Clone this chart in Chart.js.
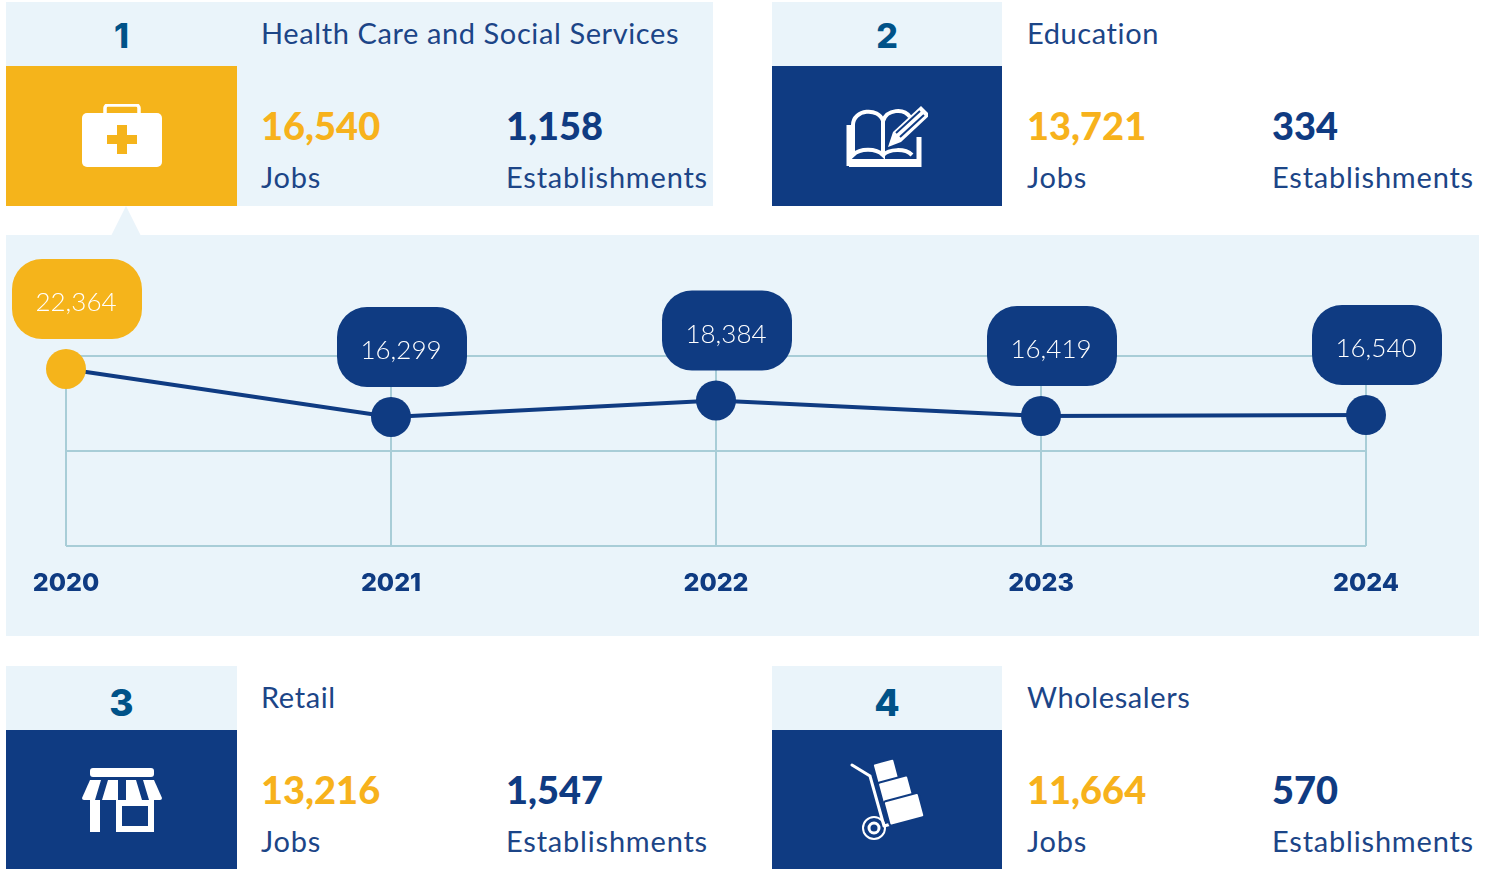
<!DOCTYPE html>
<html lang="en">
<head>
    <meta charset="UTF-8">
    <title>Top industries by jobs</title>
    <script src="https://cdn.jsdelivr.net/npm/chart.js"></script>
    <style>
        html, body {
            margin: 0;
            padding: 0;
            background: #ffffff;
            overflow: hidden;
            font-family: Lato, sans-serif;
        }

        #page { position: relative; width: 1494px; height: 869px; }

        .card { position: absolute; width: 707px; height: 204px; color: #1c4587; }
        .card.pick { background: #eaf4fa; }
        .rank {
            position: absolute; left: 0; top: 0; width: 230px; height: 64px;
            background: #eaf4fa; color: #005288;
            font: 800 34px/68px Inter, sans-serif; text-align: center;
        }
        .card.low .rank { line-height: 74px; font-size: 37px; }
        .icon {
            position: absolute; left: 0; top: 64px; width: 230px; height: 140px;
            background: #0f3b82;
            display: flex; align-items: center; justify-content: center;
        }
        .card.pick .rank, .card.pick .icon, .card.left .rank, .card.left .icon { width: 231px; }
        .card.pick .icon { background: #f5b41b; }
        .icon svg { display: block; }
        .title, .lbl { position: absolute; font-weight: 400; font-size: 29px; line-height: 34px; letter-spacing: 0.6px; white-space: nowrap; }
        .title { left: 255px; top: 14px; }
        .lbl { top: 158px; letter-spacing: 0.8px; }
        .num { position: absolute; top: 100px; font-weight: 900; font-size: 38px; line-height: 46px; white-space: nowrap; }
        .jobs { left: 255px; }
        .est { left: 500px; }
        .num.jobs { color: #f7b21c; }
        .num.est { color: #0f3b82; }

        #panel { position: absolute; left: 6px; top: 235px; width: 1473px; height: 401px; background: #eaf4fa; }
        #notch { position: absolute; left: 111px; top: 206px; }
        canvas { display: block; }
    </style>
</head>
<body>
    <div id="page">
        <div id="cards"></div>
        <svg id="notch" width="30" height="30"><polygon points="15,0 30,30 0,30" fill="#eaf4fa"/></svg>
        <div id="panel"><canvas id="jobsChart" width="1473" height="401"></canvas></div>
    </div>

    <script>
        // chart data
        const years = ["2020", "2021", "2022", "2023", "2024"];
        const jobsByYear = [22364, 16299, 18384, 16419, 16540];
        const yAxisMax = 24000;
        const yAxisStep = 12000;

        // cards
        const sectors = ["Health Care and Social Services", "Education", "Retail", "Wholesalers"];
        const sectorJobs = ["16,540", "13,721", "13,216", "11,664"];
        const sectorEstablishments = ["1,158", "334", "1,547", "570"];

        const navy = "#0f3b82";
        const yellow = "#f5b41b";
        const gridColor = "#a8cdd7";

        const icons = [
            // first aid case
            `<svg width="82" height="64" viewBox="0 0 82 64"><path d="M24 10V4a3 3 0 0 1 3-3h28a3 3 0 0 1 3 3v6" fill="none" stroke="#fff" stroke-width="3.5"/><rect x="1" y="9" width="80" height="54" rx="5" fill="#fff"/><path d="M36 21h10v10h10v9H46v10H36V40H26v-9h10z" fill="#f5b41b"/></svg>`,
            // book and pencil
            `<svg width="82" height="62" viewBox="0 0 82 62"><path d="M3 61V20M3 61h70V32" stroke="#fff" stroke-width="5" fill="none"/><path d="M7 50V20C7 4 33 2 37 16v34C30 43 14 43 7 50z" fill="none" stroke="#fff" stroke-width="4"/><path d="M37 16C41 4 58 3 64 12M37 50c6-6 22-7 29 0" fill="none" stroke="#fff" stroke-width="4"/><path d="M3 61h70V54H3z" fill="#fff"/><path d="M42 42l5-15 28-26 9 9-29 27z" fill="#fff"/><path d="M50 28l24-22M54 32l24-22" stroke="#0f3b82" stroke-width="2"/></svg>`,
            // shop front
            `<svg width="82" height="66" viewBox="0 0 82 66"><rect x="9" y="1" width="64" height="9" rx="3" fill="#fff"/><path d="M9 13h64l8 18a2 2 0 0 1-2 2H3a2 2 0 0 1-2-2z" fill="#fff"/><path d="M20 13h7l-6 20h-7zM37 13h8v20h-8zM55 13h7l6 20h-7z" fill="#0f3b82"/><rect x="9" y="33" width="10" height="32" fill="#fff"/><rect x="35" y="33" width="38" height="32" fill="#fff"/><rect x="41" y="39" width="26" height="20" fill="#0f3b82"/></svg>`,
            // hand truck
            `<svg width="74" height="82" viewBox="0 0 74 82"><path d="M2 6l18 11 14 50" fill="none" stroke="#fff" stroke-width="3" stroke-linecap="round"/><path d="M34 67l32-9" stroke="#fff" stroke-width="3"/><circle cx="24" cy="69" r="11" fill="none" stroke="#fff" stroke-width="2"/><circle cx="24" cy="69" r="5" fill="none" stroke="#fff" stroke-width="3"/><g fill="#fff" stroke="#0f3b82" stroke-width="2"><rect x="25" y="2" width="22" height="21" rx="2" transform="rotate(-15 35 13)"/><rect x="30" y="20" width="31" height="22" rx="2" transform="rotate(-15 44 31)"/><rect x="36" y="38" width="36" height="25" rx="2" transform="rotate(-15 53 50)"/></g></svg>`
        ];

        const cardOrigins = [[6, 2], [772, 2], [6, 666], [772, 666]];
        const cardClasses = ["pick", "", "low left", "low"];
        document.getElementById("cards").innerHTML = sectors.map((name, i) => `
            <div class="card ${cardClasses[i]}" style="left:${cardOrigins[i][0]}px;top:${cardOrigins[i][1]}px">
                <div class="rank">${i + 1}</div>
                <div class="icon">${icons[i]}</div>
                <div class="title">${name}</div>
                <div class="num jobs">${sectorJobs[i]}</div>
                <div class="lbl jobs">Jobs</div>
                <div class="num est">${sectorEstablishments[i]}</div>
                <div class="lbl est">Establishments</div>
            </div>`).join("");

        // rounded value labels above the points
        const bubblePlugin = {
            id: "bubbles",
            afterDatasetsDraw(chart) {
                const ctx = chart.ctx;
                const points = chart.getDatasetMeta(0).data;
                ctx.save();
                ctx.font = "300 26px Lato, sans-serif";
                ctx.textAlign = "center";
                ctx.textBaseline = "middle";
                points.forEach((pt, i) => {
                    const cx = pt.x + 11;
                    const cy = pt.y - 70;
                    ctx.fillStyle = i === 0 ? yellow : navy;
                    ctx.beginPath();
                    ctx.roundRect(cx - 65, cy - 40, 130, 80, 30);
                    ctx.fill();
                    ctx.fillStyle = "#ffffff";
                    ctx.fillText(jobsByYear[i].toLocaleString("en-US"), cx - 1, cy + 4);
                });
                ctx.restore();
            }
        };

        new Chart(document.getElementById("jobsChart"), {
            type: "line",
            data: {
                labels: years,
                datasets: [{
                    data: jobsByYear,
                    clip: false,
                    borderColor: navy,
                    borderWidth: 4,
                    tension: 0,
                    pointRadius: 20,
                    pointBorderWidth: 0,
                    pointBackgroundColor: years.map((y, i) => i === 0 ? yellow : navy)
                }]
            },
            options: {
                responsive: false,
                animation: false,
                layout: { padding: { left: 60, right: 113, top: 121, bottom: 0 } },
                plugins: { legend: { display: false }, tooltip: { enabled: false } },
                scales: {
                    x: {
                        offset: false,
                        afterFit: scale => { scale.height = 90; },
                        grid: { color: gridColor, lineWidth: 2, drawTicks: false },
                        border: { display: false },
                        ticks: {
                            padding: 22,
                            color: navy,
                            maxRotation: 0,
                            font: { family: "Inter, sans-serif", size: 25, weight: "800" }
                        }
                    },
                    y: {
                        min: 0,
                        max: yAxisMax,
                        afterFit: scale => { scale.width = 0; },
                        grid: { color: gridColor, lineWidth: 2, drawTicks: false },
                        border: { display: false },
                        ticks: { display: false, stepSize: yAxisStep }
                    }
                }
            },
            plugins: [bubblePlugin]
        });
    </script>
</body>
</html>
